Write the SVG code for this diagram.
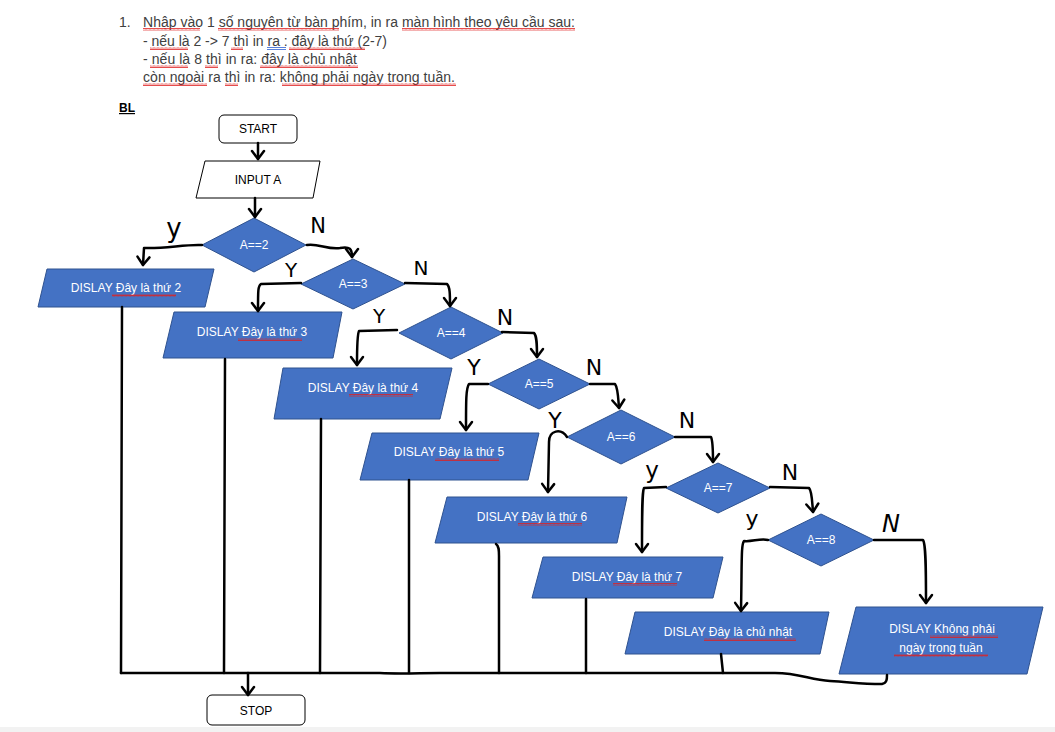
<svg xmlns="http://www.w3.org/2000/svg" width="1055" height="732" viewBox="0 0 1055 732">
  <defs>
    <style>
      .doc { font-family: "Liberation Sans", "DejaVu Sans", sans-serif; font-size: 14px; fill: #404040; }
      .term { fill: #ffffff; stroke: #000000; stroke-width: 1; }
      .io { fill: #ffffff; stroke: #000000; stroke-width: 1; }
      .blue { fill: #4472C4; stroke: #2F528F; stroke-width: 1; }
      .lbl { font-family: "Liberation Sans", "DejaVu Sans", sans-serif; font-size: 12px; text-anchor: middle; }
      .white { fill: #ffffff; }
      .black { fill: #000000; }
      .hand { font-family: "DejaVu Sans", sans-serif; fill: #000000; text-anchor: middle; }
      .wire { fill: none; stroke: #000000; stroke-width: 2.5; stroke-linecap: round; stroke-linejoin: round; }
      .sq { fill: url(#squiggle); }
    </style>
    <pattern id="squiggle" width="4" height="3" patternUnits="userSpaceOnUse">
      <path d="M0,2.5 L1,0.5 L2,2.5 L3,0.5 L4,2.5" fill="none" stroke="#e02020" stroke-width="0.8"/>
    </pattern>
    <marker id="arrow" viewBox="-10 -8 12 16" markerWidth="12" markerHeight="16" refX="0" refY="0" orient="auto" markerUnits="userSpaceOnUse">
      <path d="M-8,-6 L0,0 L-8,6" fill="none" stroke="#000000" stroke-width="2.5" stroke-linecap="round" stroke-linejoin="round"/>
    </marker>
  </defs>

  <rect x="0" y="0" width="1055" height="732" fill="#ffffff"/>
  <rect x="0" y="727" width="1055" height="5" fill="#f2f2f2"/>

  <!-- task statement -->
  <g id="statement">
    <text class="doc" x="119" y="27">1.</text>
    <text class="doc" x="143" y="27" textLength="432" lengthAdjust="spacing">Nhập vào 1 số nguyên từ bàn phím, in ra màn hình theo yêu cầu sau:</text>
    <text class="doc" x="143" y="46" textLength="244" lengthAdjust="spacing">- nếu là 2 -&gt; 7 thì in ra : đây là thứ (2-7)</text>
    <text class="doc" x="143" y="64" textLength="214" lengthAdjust="spacing">- nếu là 8 thì in ra: đây là chủ nhật</text>
    <text class="doc" x="143" y="82" textLength="312" lengthAdjust="spacing">còn ngoài ra thì in ra: không phải ngày trong tuần.</text>
    <text x="119" y="112" font-family="Liberation Sans, DejaVu Sans, sans-serif" font-size="12px" font-weight="bold" fill="#000000" text-decoration="underline">BL</text>
    <!-- spelling marks -->
    <rect class="sq" x="143" y="28" width="57" height="3"/>
    <rect class="sq" x="218" y="28" width="121" height="3"/>
    <rect class="sq" x="402" y="28" width="173" height="3"/>
    <rect class="sq" x="150" y="47" width="38" height="3"/>
    <rect class="sq" x="231" y="47" width="12" height="3"/>
    <rect class="sq" x="289" y="47" width="76" height="3"/>
    <path d="M267,47.5 H286 M267,49.5 H286" stroke="#2f5fd0" stroke-width="0.8"/>
    <rect class="sq" x="150" y="65" width="38" height="3"/>
    <rect class="sq" x="205" y="65" width="13" height="3"/>
    <rect class="sq" x="260" y="65" width="98" height="3"/>
    <rect class="sq" x="143" y="83" width="64" height="3"/>
    <rect class="sq" x="225" y="83" width="13" height="3"/>
    <rect class="sq" x="282" y="83" width="174" height="3"/>
  </g>

  <!-- terminals and input -->
  <g id="start">
    <rect class="term" x="219" y="115" width="78" height="28" rx="5"/>
    <text class="lbl black" x="258" y="133">START</text>
  </g>
  <g id="input">
    <polygon class="io" points="205,161 320,161 313,198 196,198"/>
    <text class="lbl black" x="258" y="184">INPUT A</text>
  </g>
  <g id="stop">
    <rect class="term" x="207" y="695" width="98" height="30" rx="5"/>
    <text class="lbl black" x="256" y="715">STOP</text>
  </g>

  <!-- decisions -->
  <g id="d2">
    <polygon class="blue" points="202,245 254,218 306,245 254,272"/>
    <text class="lbl white" x="254" y="249">A==2</text>
  </g>
  <g id="d3">
    <polygon class="blue" points="301,284 353,259 405,284 353,309"/>
    <text class="lbl white" x="353" y="288">A==3</text>
  </g>
  <g id="d4">
    <polygon class="blue" points="399,333 451,307 503,333 451,359"/>
    <text class="lbl white" x="451" y="337">A==4</text>
  </g>
  <g id="d5">
    <polygon class="blue" points="488,384 539,359 590,384 539,409"/>
    <text class="lbl white" x="539" y="388">A==5</text>
  </g>
  <g id="d6">
    <polygon class="blue" points="567,437 621,410 675,437 621,464"/>
    <text class="lbl white" x="621" y="441">A==6</text>
  </g>
  <g id="d7">
    <polygon class="blue" points="666,488 718,463 770,488 718,513"/>
    <text class="lbl white" x="718" y="492">A==7</text>
  </g>
  <g id="d8">
    <polygon class="blue" points="768,540 821,514 874,540 821,566"/>
    <text class="lbl white" x="821" y="544">A==8</text>
  </g>

  <!-- outputs -->
  <g id="out2">
    <polygon class="blue" points="47,269 214,269 205,307 38,307"/>
    <text class="lbl white" x="126" y="292">DISLAY Đây là thứ 2</text>
    <rect class="sq" x="112" y="294" width="64" height="3"/>
  </g>
  <g id="out3">
    <polygon class="blue" points="174,312 342,312 333,358 163,358"/>
    <text class="lbl white" x="252" y="336">DISLAY Đây là thứ 3</text>
    <rect class="sq" x="238" y="338" width="64" height="3"/>
  </g>
  <g id="out4">
    <polygon class="blue" points="283,368 452,368 440,419 274,419"/>
    <text class="lbl white" x="363" y="392">DISLAY Đây là thứ 4</text>
    <rect class="sq" x="349" y="394" width="64" height="3"/>
  </g>
  <g id="out5">
    <polygon class="blue" points="372,433 539,433 528,480 360,480"/>
    <text class="lbl white" x="449" y="456">DISLAY Đây là thứ 5</text>
    <rect class="sq" x="435" y="458" width="64" height="3"/>
  </g>
  <g id="out6">
    <polygon class="blue" points="447,497 627,497 617,543 435,543"/>
    <text class="lbl white" x="532" y="521">DISLAY Đây là thứ 6</text>
    <rect class="sq" x="518" y="523" width="64" height="3"/>
  </g>
  <g id="out7">
    <polygon class="blue" points="543,557 723,557 713,598 532,598"/>
    <text class="lbl white" x="627" y="581">DISLAY Đây là thứ 7</text>
    <rect class="sq" x="613" y="583" width="64" height="3"/>
  </g>
  <g id="out8">
    <polygon class="blue" points="635,612 829,612 820,654 625,654"/>
    <text class="lbl white" x="728" y="636">DISLAY Đây là chủ nhật</text>
    <rect class="sq" x="704" y="638" width="92" height="3"/>
  </g>
  <g id="outOther">
    <polygon class="blue" points="856,607 1043,607 1027,674 839,674"/>
    <text class="lbl white" x="942" y="633">DISLAY Không phải</text>
    <text class="lbl white" x="941" y="652">ngày trong tuần</text>
    <rect class="sq" x="930" y="635" width="68" height="3"/>
    <rect class="sq" x="894" y="654" width="94" height="3"/>
  </g>

  <!-- connectors -->
  <g id="connectors">
    <path class="wire" d="M258,143 L258,159" marker-end="url(#arrow)"/>
    <path class="wire" d="M255,198 L255,217" marker-end="url(#arrow)"/>

    <path class="wire" d="M202,245 C185,244 165,249 144,248 L143,265" marker-end="url(#arrow)"/>
    <path class="wire" d="M307,245 C318,243 328,250 340,248 C350,246 352,249 352,257" marker-end="url(#arrow)"/>

    <path class="wire" d="M301,283 L261,284 C258,286 258,290 258,311" marker-end="url(#arrow)"/>
    <path class="wire" d="M405,283 L447,284 C450,287 450,294 450,306" marker-end="url(#arrow)"/>

    <path class="wire" d="M397,330 L359,331 C357,335 357,345 357,365" marker-end="url(#arrow)"/>
    <path class="wire" d="M502,332 L534,333 C537,336 537,345 537,357" marker-end="url(#arrow)"/>

    <path class="wire" d="M488,384 L469,384 C466,388 466,400 466,430" marker-end="url(#arrow)"/>
    <path class="wire" d="M590,384 L615,384 C618,388 618,396 619,408" marker-end="url(#arrow)"/>

    <path class="wire" d="M567,437 C561,428 549,430 549,442 L548,492" marker-end="url(#arrow)"/>
    <path class="wire" d="M675,437 L711,437 C713,441 713,450 713,462" marker-end="url(#arrow)"/>

    <path class="wire" d="M666,487 L644,488 C642,492 642,510 642,552" marker-end="url(#arrow)"/>
    <path class="wire" d="M770,487 L809,488 C812,491 812,500 813,512" marker-end="url(#arrow)"/>

    <path class="wire" d="M768,540 C760,538 752,542 744,541 C741,545 742,560 741,611" marker-end="url(#arrow)"/>
    <path class="wire" d="M874,540 L923,540 C926,544 926,570 926,603" marker-end="url(#arrow)"/>

    <!-- return lines to the common bus -->
    <path class="wire" d="M122,307 L121,673"/>
    <path class="wire" d="M225,359 L224,673"/>
    <path class="wire" d="M321,419 L320,673"/>
    <path class="wire" d="M409,480 L409,673"/>
    <path class="wire" d="M496,544 C499,546 499,550 499,556 L499,673"/>
    <path class="wire" d="M586,599 L586,673"/>
    <path class="wire" d="M721,654 L723,673"/>
    <path class="wire" d="M121,673 L380,673 C400,674 420,673 440,673 L775,673 C800,673 810,680 830,681 C850,682 860,684 882,684 C887,683 887,679 887,675"/>
    <path class="wire" d="M248,673 L248,695" marker-end="url(#arrow)"/>
  </g>

  <!-- branch marks -->
  <g id="branch-labels">
    <text class="hand" x="174" y="237" font-size="26">y</text>
    <text class="hand" x="318" y="233" font-size="21">N</text>
    <text class="hand" x="291" y="277" font-size="20">Y</text>
    <text class="hand" x="421" y="275" font-size="20">N</text>
    <text class="hand" x="379" y="323" font-size="20">Y</text>
    <text class="hand" x="505" y="325" font-size="22">N</text>
    <text class="hand" x="474" y="375" font-size="22">Y</text>
    <text class="hand" x="594" y="375" font-size="22">N</text>
    <text class="hand" x="555" y="428" font-size="22">Y</text>
    <text class="hand" x="687" y="428" font-size="22">N</text>
    <text class="hand" x="652" y="478" font-size="23">y</text>
    <text class="hand" x="790" y="480" font-size="22">N</text>
    <text class="hand" x="752" y="526" font-size="22">y</text>
    <text class="hand" x="891" y="532" font-size="24" font-style="italic">N</text>
  </g>
</svg>
